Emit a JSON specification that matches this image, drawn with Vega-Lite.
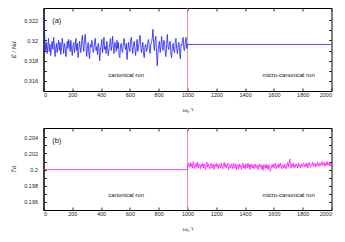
{
  "$schema": "https://vega.github.io/schema/vega-lite/v6.json",
  "padding": {"left": 9.5, "top": 7, "right": 6, "bottom": 4},
  "spacing": 14,
  "config": {
    "font": "Liberation Sans",
    "view": {"stroke": "#000", "strokeWidth": 1},
    "text": {"font": "Liberation Sans"},
    "axis": {"labelFont": "Liberation Sans", "labelFontSize": 5.5, "labelColor": "#222", "tickColor": "#333", "domainColor": "#000", "grid": false, "tickSize": -3, "titleFont": "Liberation Sans", "titleFontSize": 6, "titleFontWeight": "normal", "titleColor": "#222"}
  },
  "datasets": {
    "E": [
      {"t":0,"v":0.3228},{"t":5,"v":0.3213},{"t":10,"v":0.3201},{"t":15,"v":0.3190},{"t":20,"v":0.3198},{"t":25,"v":0.3187},{"t":30,"v":0.3195},{"t":35,"v":0.3202},{"t":40,"v":0.3189},{"t":45,"v":0.3196},{"t":50,"v":0.3185},{"t":55,"v":0.3194},{"t":60,"v":0.3199},{"t":65,"v":0.3191},{"t":70,"v":0.3203},{"t":75,"v":0.3196},{"t":80,"v":0.3184},{"t":85,"v":0.3192},{"t":90,"v":0.3197},{"t":95,"v":0.3188},
      {"t":100,"v":0.3195},{"t":105,"v":0.3200},{"t":110,"v":0.3190},{"t":115,"v":0.3198},{"t":120,"v":0.3186},{"t":125,"v":0.3193},{"t":130,"v":0.3202},{"t":135,"v":0.3195},{"t":140,"v":0.3187},{"t":145,"v":0.3197},{"t":150,"v":0.3194},{"t":155,"v":0.3184},{"t":160,"v":0.3190},{"t":165,"v":0.3199},{"t":170,"v":0.3192},{"t":175,"v":0.3201},{"t":180,"v":0.3196},{"t":185,"v":0.3189},{"t":190,"v":0.3200},{"t":195,"v":0.3191},
      {"t":200,"v":0.3185},{"t":205,"v":0.3195},{"t":210,"v":0.3198},{"t":215,"v":0.3188},{"t":220,"v":0.3194},{"t":225,"v":0.3202},{"t":230,"v":0.3190},{"t":235,"v":0.3197},{"t":240,"v":0.3183},{"t":245,"v":0.3191},{"t":250,"v":0.3199},{"t":255,"v":0.3193},{"t":260,"v":0.3188},{"t":265,"v":0.3200},{"t":270,"v":0.3205},{"t":275,"v":0.3194},{"t":280,"v":0.3189},{"t":285,"v":0.3201},{"t":290,"v":0.3206},{"t":295,"v":0.3195},
      {"t":300,"v":0.3184},{"t":305,"v":0.3192},{"t":310,"v":0.3198},{"t":315,"v":0.3187},{"t":320,"v":0.3182},{"t":325,"v":0.3196},{"t":330,"v":0.3193},{"t":335,"v":0.3200},{"t":340,"v":0.3197},{"t":345,"v":0.3188},{"t":350,"v":0.3191},{"t":355,"v":0.3199},{"t":360,"v":0.3202},{"t":365,"v":0.3190},{"t":370,"v":0.3194},{"t":375,"v":0.3186},{"t":380,"v":0.3197},{"t":385,"v":0.3192},{"t":390,"v":0.3180},{"t":395,"v":0.3189},
      {"t":400,"v":0.3196},{"t":405,"v":0.3201},{"t":410,"v":0.3188},{"t":415,"v":0.3195},{"t":420,"v":0.3203},{"t":425,"v":0.3191},{"t":430,"v":0.3194},{"t":435,"v":0.3187},{"t":440,"v":0.3199},{"t":445,"v":0.3193},{"t":450,"v":0.3185},{"t":455,"v":0.3191},{"t":460,"v":0.3197},{"t":465,"v":0.3202},{"t":470,"v":0.3190},{"t":475,"v":0.3195},{"t":480,"v":0.3204},{"t":485,"v":0.3192},{"t":490,"v":0.3187},{"t":495,"v":0.3198},
      {"t":500,"v":0.3196},{"t":505,"v":0.3189},{"t":510,"v":0.3200},{"t":515,"v":0.3192},{"t":520,"v":0.3198},{"t":525,"v":0.3185},{"t":530,"v":0.3183},{"t":535,"v":0.3195},{"t":540,"v":0.3197},{"t":545,"v":0.3190},{"t":550,"v":0.3188},{"t":555,"v":0.3199},{"t":560,"v":0.3202},{"t":565,"v":0.3194},{"t":570,"v":0.3191},{"t":575,"v":0.3197},{"t":580,"v":0.3181},{"t":585,"v":0.3190},{"t":590,"v":0.3198},{"t":595,"v":0.3192},
      {"t":600,"v":0.3189},{"t":605,"v":0.3200},{"t":610,"v":0.3203},{"t":615,"v":0.3193},{"t":620,"v":0.3187},{"t":625,"v":0.3196},{"t":630,"v":0.3199},{"t":635,"v":0.3191},{"t":640,"v":0.3185},{"t":645,"v":0.3194},{"t":650,"v":0.3201},{"t":655,"v":0.3189},{"t":660,"v":0.3193},{"t":665,"v":0.3199},{"t":670,"v":0.3205},{"t":675,"v":0.3196},{"t":680,"v":0.3188},{"t":685,"v":0.3192},{"t":690,"v":0.3198},{"t":695,"v":0.3186},
      {"t":700,"v":0.3183},{"t":705,"v":0.3195},{"t":710,"v":0.3196},{"t":715,"v":0.3189},{"t":720,"v":0.3191},{"t":725,"v":0.3199},{"t":730,"v":0.3201},{"t":735,"v":0.3192},{"t":740,"v":0.3187},{"t":745,"v":0.3196},{"t":750,"v":0.3198},{"t":755,"v":0.3202},{"t":760,"v":0.3211},{"t":765,"v":0.3197},{"t":770,"v":0.3190},{"t":775,"v":0.3200},{"t":780,"v":0.3204},{"t":785,"v":0.3188},{"t":790,"v":0.3175},{"t":795,"v":0.3189},
      {"t":800,"v":0.3195},{"t":805,"v":0.3199},{"t":810,"v":0.3188},{"t":815,"v":0.3194},{"t":820,"v":0.3204},{"t":825,"v":0.3195},{"t":830,"v":0.3190},{"t":835,"v":0.3200},{"t":840,"v":0.3199},{"t":845,"v":0.3189},{"t":850,"v":0.3184},{"t":855,"v":0.3196},{"t":860,"v":0.3206},{"t":865,"v":0.3194},{"t":870,"v":0.3191},{"t":875,"v":0.3198},{"t":880,"v":0.3199},{"t":885,"v":0.3186},{"t":890,"v":0.3183},{"t":895,"v":0.3194},
      {"t":900,"v":0.3197},{"t":905,"v":0.3190},{"t":910,"v":0.3188},{"t":915,"v":0.3199},{"t":920,"v":0.3202},{"t":925,"v":0.3192},{"t":930,"v":0.3187},{"t":935,"v":0.3195},{"t":940,"v":0.3198},{"t":945,"v":0.3189},{"t":950,"v":0.3182},{"t":955,"v":0.3196},{"t":960,"v":0.3195},{"t":965,"v":0.3200},{"t":970,"v":0.3203},{"t":975,"v":0.3191},{"t":980,"v":0.3190},{"t":985,"v":0.3199},{"t":990,"v":0.3203},{"t":995,"v":0.3192},
      {"t":1000,"v":0.3196},{"t":2000,"v":0.3196}
    ],
    "T": [
      {"t":0,"v":0.2000},
      {"t":1000,"v":0.2000},{"t":1005,"v":0.2008},{"t":1010,"v":0.2006},{"t":1015,"v":0.2003},{"t":1020,"v":0.2009},{"t":1025,"v":0.2004},{"t":1030,"v":0.2007},{"t":1035,"v":0.2002},{"t":1040,"v":0.2010},{"t":1045,"v":0.2005},{"t":1050,"v":0.2001},{"t":1055,"v":0.2006},{"t":1060,"v":0.2008},{"t":1065,"v":0.2003},{"t":1070,"v":0.2009},{"t":1075,"v":0.2002},{"t":1080,"v":0.2005},{"t":1085,"v":0.2007},{"t":1090,"v":0.2001},{"t":1095,"v":0.2006},
      {"t":1100,"v":0.2004},{"t":1105,"v":0.2008},{"t":1110,"v":0.2002},{"t":1115,"v":0.2007},{"t":1120,"v":0.2005},{"t":1125,"v":0.2000},{"t":1130,"v":0.2006},{"t":1135,"v":0.2009},{"t":1140,"v":0.2003},{"t":1145,"v":0.2007},{"t":1150,"v":0.2004},{"t":1155,"v":0.2001},{"t":1160,"v":0.2006},{"t":1165,"v":0.2008},{"t":1170,"v":0.2002},{"t":1175,"v":0.2005},{"t":1180,"v":0.2007},{"t":1185,"v":0.2000},{"t":1190,"v":0.2006},{"t":1195,"v":0.2004},
      {"t":1200,"v":0.2008},{"t":1205,"v":0.2003},{"t":1210,"v":0.2006},{"t":1215,"v":0.2001},{"t":1220,"v":0.2007},{"t":1225,"v":0.2005},{"t":1230,"v":0.2002},{"t":1235,"v":0.2008},{"t":1240,"v":0.2004},{"t":1245,"v":0.2001},{"t":1250,"v":0.2006},{"t":1255,"v":0.2009},{"t":1260,"v":0.2003},{"t":1265,"v":0.2007},{"t":1270,"v":0.2002},{"t":1275,"v":0.2005},{"t":1280,"v":0.2008},{"t":1285,"v":0.2000},{"t":1290,"v":0.2004},{"t":1295,"v":0.2006},
      {"t":1300,"v":0.2002},{"t":1305,"v":0.2007},{"t":1310,"v":0.2005},{"t":1315,"v":0.2001},{"t":1320,"v":0.2008},{"t":1325,"v":0.2004},{"t":1330,"v":0.2002},{"t":1335,"v":0.2007},{"t":1340,"v":0.2000},{"t":1345,"v":0.2005},{"t":1350,"v":0.2006},{"t":1355,"v":0.2001},{"t":1360,"v":0.2007},{"t":1365,"v":0.2003},{"t":1370,"v":0.2005},{"t":1375,"v":0.2000},{"t":1380,"v":0.2006},{"t":1385,"v":0.2008},{"t":1390,"v":0.2002},{"t":1395,"v":0.2005},
      {"t":1400,"v":0.2001},{"t":1405,"v":0.2007},{"t":1410,"v":0.2004},{"t":1415,"v":0.2002},{"t":1420,"v":0.2008},{"t":1425,"v":0.2003},{"t":1430,"v":0.2006},{"t":1435,"v":0.2000},{"t":1440,"v":0.2007},{"t":1445,"v":0.2004},{"t":1450,"v":0.2002},{"t":1455,"v":0.2006},{"t":1460,"v":0.2001},{"t":1465,"v":0.2005},{"t":1470,"v":0.2007},{"t":1475,"v":0.2002},{"t":1480,"v":0.2004},{"t":1485,"v":0.2006},{"t":1490,"v":0.2000},{"t":1495,"v":0.2005},
      {"t":1500,"v":0.2007},{"t":1505,"v":0.2003},{"t":1510,"v":0.2006},{"t":1515,"v":0.2001},{"t":1520,"v":0.2005},{"t":1525,"v":0.1999},{"t":1530,"v":0.2006},{"t":1535,"v":0.2004},{"t":1540,"v":0.2001},{"t":1545,"v":0.2007},{"t":1550,"v":0.2002},{"t":1555,"v":0.2005},{"t":1560,"v":0.2000},{"t":1565,"v":0.2006},{"t":1570,"v":0.2004},{"t":1575,"v":0.1998},{"t":1580,"v":0.2001},{"t":1585,"v":0.2006},{"t":1590,"v":0.2003},{"t":1595,"v":0.2007},
      {"t":1600,"v":0.2002},{"t":1605,"v":0.2005},{"t":1610,"v":0.2008},{"t":1615,"v":0.2001},{"t":1620,"v":0.2004},{"t":1625,"v":0.2006},{"t":1630,"v":0.2002},{"t":1635,"v":0.2007},{"t":1640,"v":0.2003},{"t":1645,"v":0.2008},{"t":1650,"v":0.2004},{"t":1655,"v":0.2001},{"t":1660,"v":0.2006},{"t":1665,"v":0.2005},{"t":1670,"v":0.2002},{"t":1675,"v":0.2007},{"t":1680,"v":0.2004},{"t":1685,"v":0.2001},{"t":1690,"v":0.2006},{"t":1695,"v":0.2009},
      {"t":1700,"v":0.2003},{"t":1705,"v":0.2008},{"t":1710,"v":0.2013},{"t":1715,"v":0.2005},{"t":1720,"v":0.2002},{"t":1725,"v":0.2007},{"t":1730,"v":0.2004},{"t":1735,"v":0.2008},{"t":1740,"v":0.2002},{"t":1745,"v":0.2006},{"t":1750,"v":0.2003},{"t":1755,"v":0.2007},{"t":1760,"v":0.2005},{"t":1765,"v":0.2002},{"t":1770,"v":0.2008},{"t":1775,"v":0.2004},{"t":1780,"v":0.2006},{"t":1785,"v":0.2002},{"t":1790,"v":0.2007},{"t":1795,"v":0.2005},
      {"t":1800,"v":0.2003},{"t":1805,"v":0.2008},{"t":1810,"v":0.2006},{"t":1815,"v":0.2003},{"t":1820,"v":0.2007},{"t":1825,"v":0.2004},{"t":1830,"v":0.2008},{"t":1835,"v":0.2002},{"t":1840,"v":0.2006},{"t":1845,"v":0.2009},{"t":1850,"v":0.2005},{"t":1855,"v":0.2003},{"t":1860,"v":0.2007},{"t":1865,"v":0.2006},{"t":1870,"v":0.2009},{"t":1875,"v":0.2004},{"t":1880,"v":0.2006},{"t":1885,"v":0.2008},{"t":1890,"v":0.2003},{"t":1895,"v":0.2007},
      {"t":1900,"v":0.2005},{"t":1905,"v":0.2009},{"t":1910,"v":0.2006},{"t":1915,"v":0.2004},{"t":1920,"v":0.2008},{"t":1925,"v":0.2005},{"t":1930,"v":0.2007},{"t":1935,"v":0.2010},{"t":1940,"v":0.2005},{"t":1945,"v":0.2007},{"t":1950,"v":0.2009},{"t":1955,"v":0.2004},{"t":1960,"v":0.2008},{"t":1965,"v":0.2006},{"t":1970,"v":0.2010},{"t":1975,"v":0.2005},{"t":1980,"v":0.2007},{"t":1985,"v":0.2009},{"t":1990,"v":0.2004},{"t":1995,"v":0.2008},
      {"t":2000,"v":0.2005}
    ],
    "labA": [
      {"t":60,"v":0.3219,"label":"(a)","kind":"panel"},
      {"t":450,"v":0.3166,"label":"canonical run","kind":"run"},
      {"t":1520,"v":0.3166,"label":"micro-canonical run","kind":"run"}
    ],
    "labB": [
      {"t":60,"v":0.20354,"label":"(b)","kind":"panel"},
      {"t":450,"v":0.19688,"label":"canonical run","kind":"run"},
      {"t":1520,"v":0.19688,"label":"micro-canonical run","kind":"run"}
    ],
    "split": [{"t":1000}]
  },
  "vconcat": [
    {
      "width": 288,
      "height": 83,
      "resolve": {"axis": {"x": "independent", "y": "independent"}},
      "layer": [
        {
          "data": {"name": "split"},
          "mark": {"type": "rule", "color": "#e87878", "strokeWidth": 0.8},
          "encoding": {
            "x": {"field": "t", "type": "quantitative", "scale": {"domain": [0, 2000], "nice": false}, "axis": null}
          }
        },
        {
          "data": {"name": "E"},
          "mark": {"type": "line", "color": "#1f1fff", "strokeWidth": 0.8, "clip": true},
          "encoding": {
            "x": {"field": "t", "type": "quantitative", "scale": {"domain": [0, 2000], "nice": false},
                  "axis": {"orient": "bottom", "values": [0,200,400,600,800,1000,1200,1400,1600,1800,2000], "format": "d", "labelPadding": 4, "title": "ω₀⁻¹", "titlePadding": 9}},
            "y": {"field": "v", "type": "quantitative", "scale": {"domain": [0.315, 0.3232], "nice": false, "zero": false},
                  "axis": {"orient": "left", "values": [0.316,0.317,0.318,0.319,0.32,0.321,0.322], "labelExpr": "round(datum.value*1000) % 2 == 0 ? format(datum.value, '.3~f') : ''", "labelPadding": 9, "title": "Ē / Nd", "titleFontStyle": "italic", "titlePadding": 7}}
          }
        },
        {
          "data": {"name": "labA"},
          "mark": {"type": "text", "align": "left", "baseline": "middle", "fontSize": 6, "color": "#111", "font": "Liberation Sans"},
          "encoding": {
            "x": {"field": "t", "type": "quantitative", "scale": {"domain": [0, 2000], "nice": false},
                  "axis": {"orient": "top", "values": [0,200,400,600,800,1000,1200,1400,1600,1800,2000], "labels": false, "domain": false, "title": null}},
            "y": {"field": "v", "type": "quantitative", "scale": {"domain": [0.315, 0.3232], "nice": false, "zero": false},
                  "axis": {"orient": "right", "values": [0.316,0.317,0.318,0.319,0.32,0.321,0.322], "labels": false, "domain": false, "title": null}},
            "text": {"field": "label"},
            "align": {"condition": {"test": "datum.kind == 'run'", "value": "center"}, "value": "left"},
            "fontWeight": {"condition": {"test": "datum.kind == 'panel'", "value": "bold"}, "value": "normal"},
            "size": {"condition": {"test": "datum.kind == 'panel'", "value": 7.5}, "value": 6}
          }
        }
      ]
    },
    {
      "width": 288,
      "height": 82,
      "resolve": {"axis": {"x": "independent", "y": "independent"}},
      "layer": [
        {
          "data": {"name": "split"},
          "mark": {"type": "rule", "color": "#e87878", "strokeWidth": 0.8},
          "encoding": {
            "x": {"field": "t", "type": "quantitative", "scale": {"domain": [0, 2000], "nice": false}, "axis": null}
          }
        },
        {
          "data": {"name": "T"},
          "mark": {"type": "line", "color": "#ff10ff", "strokeWidth": 0.8, "clip": true},
          "encoding": {
            "x": {"field": "t", "type": "quantitative", "scale": {"domain": [0, 2000], "nice": false},
                  "axis": {"orient": "bottom", "values": [0,200,400,600,800,1000,1200,1400,1600,1800,2000], "format": "d", "labelPadding": 4, "title": "ω₀⁻¹", "titlePadding": 9}},
            "y": {"field": "v", "type": "quantitative", "scale": {"domain": [0.195, 0.20515], "nice": false, "zero": false},
                  "axis": {"orient": "left", "values": [0.196,0.197,0.198,0.199,0.2,0.201,0.202,0.203,0.204], "labelExpr": "round(datum.value*1000) % 2 == 0 ? format(datum.value, '.3~f') : ''", "labelPadding": 9, "title": "T̄d", "titleFontStyle": "italic", "titlePadding": 7}}
          }
        },
        {
          "data": {"name": "labB"},
          "mark": {"type": "text", "align": "left", "baseline": "middle", "fontSize": 6, "color": "#111", "font": "Liberation Sans"},
          "encoding": {
            "x": {"field": "t", "type": "quantitative", "scale": {"domain": [0, 2000], "nice": false},
                  "axis": {"orient": "top", "values": [0,200,400,600,800,1000,1200,1400,1600,1800,2000], "labels": false, "domain": false, "title": null}},
            "y": {"field": "v", "type": "quantitative", "scale": {"domain": [0.195, 0.20515], "nice": false, "zero": false},
                  "axis": {"orient": "right", "values": [0.196,0.197,0.198,0.199,0.2,0.201,0.202,0.203,0.204], "labels": false, "domain": false, "title": null}},
            "text": {"field": "label"},
            "align": {"condition": {"test": "datum.kind == 'run'", "value": "center"}, "value": "left"},
            "fontWeight": {"condition": {"test": "datum.kind == 'panel'", "value": "bold"}, "value": "normal"},
            "size": {"condition": {"test": "datum.kind == 'panel'", "value": 7.5}, "value": 6}
          }
        }
      ]
    }
  ]
}
